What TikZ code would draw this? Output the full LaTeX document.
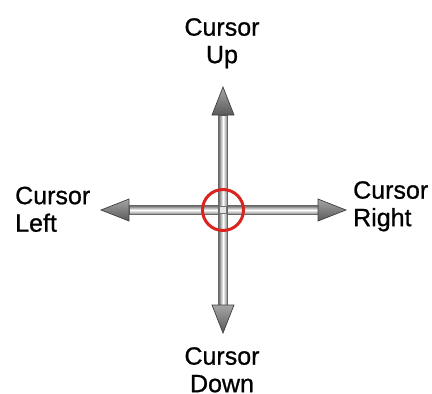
\documentclass[tikz,border=0pt]{standalone}
\usepackage{fontspec}
\setmainfont{Liberation Sans}
\newfontfamily\lblfont{Liberation Sans}[FakeBold=0.8]
\definecolor{ringred}{RGB}{218,36,32}
\begin{document}
\begin{tikzpicture}[x=1pt,y=-1pt,
  lbl/.style={inner sep=0pt, font=\lblfont\fontsize{25}{27.5}\selectfont},
  shaftH/.style={top color=black!60, bottom color=black!50, middle color=white, draw=black!60, line width=0.4pt},
  shaftV/.style={left color=black!60, right color=black!50, middle color=white, draw=black!60, line width=0.4pt},
  headshade/.style={draw=black!75, line width=0.7pt, line join=miter},
  hub/.style={draw=black!55, fill=black!10, line width=0.5pt},
  ring/.style={draw=ringred, line width=3pt}]
\useasboundingbox (0,0) rectangle (432,394);
\fill[white] (0,0) rectangle (432,394);
\coordinate (c) at (223,210);
% shafts
\path[shaftH] (129,205.5) rectangle (318,214.5);
\path[shaftV] (218.5,115) rectangle (227.5,305);
% heads
\path[headshade, top color=black!35, bottom color=black!65] (223,87) -- (234,115) -- (212,115) -- cycle;
\path[headshade, top color=black!35, bottom color=black!65] (223,333) -- (234,305) -- (212,305) -- cycle;
\path[headshade, top color=black!35, bottom color=black!65] (101,210) -- (129,199) -- (129,221) -- cycle;
\path[headshade, top color=black!35, bottom color=black!65] (346,210) -- (318,199) -- (318,221) -- cycle;
% hub
\path[hub] (219.5,206.5) rectangle (226.5,213.5);
\draw[ring] (c) circle[radius=20.5];
% labels
\node[lbl, anchor=north, align=center] (up) at (222,18) {Cursor\\Up};
\node[lbl, anchor=north, align=center] (down) at (222,347) {Cursor\\Down};
\node[lbl, anchor=north west, align=left] (left) at (15,186.5) {Cursor\\Left};
\node[lbl, anchor=north west, align=left] (right) at (353,181) {Cursor\\Right};
\end{tikzpicture}
\end{document}
